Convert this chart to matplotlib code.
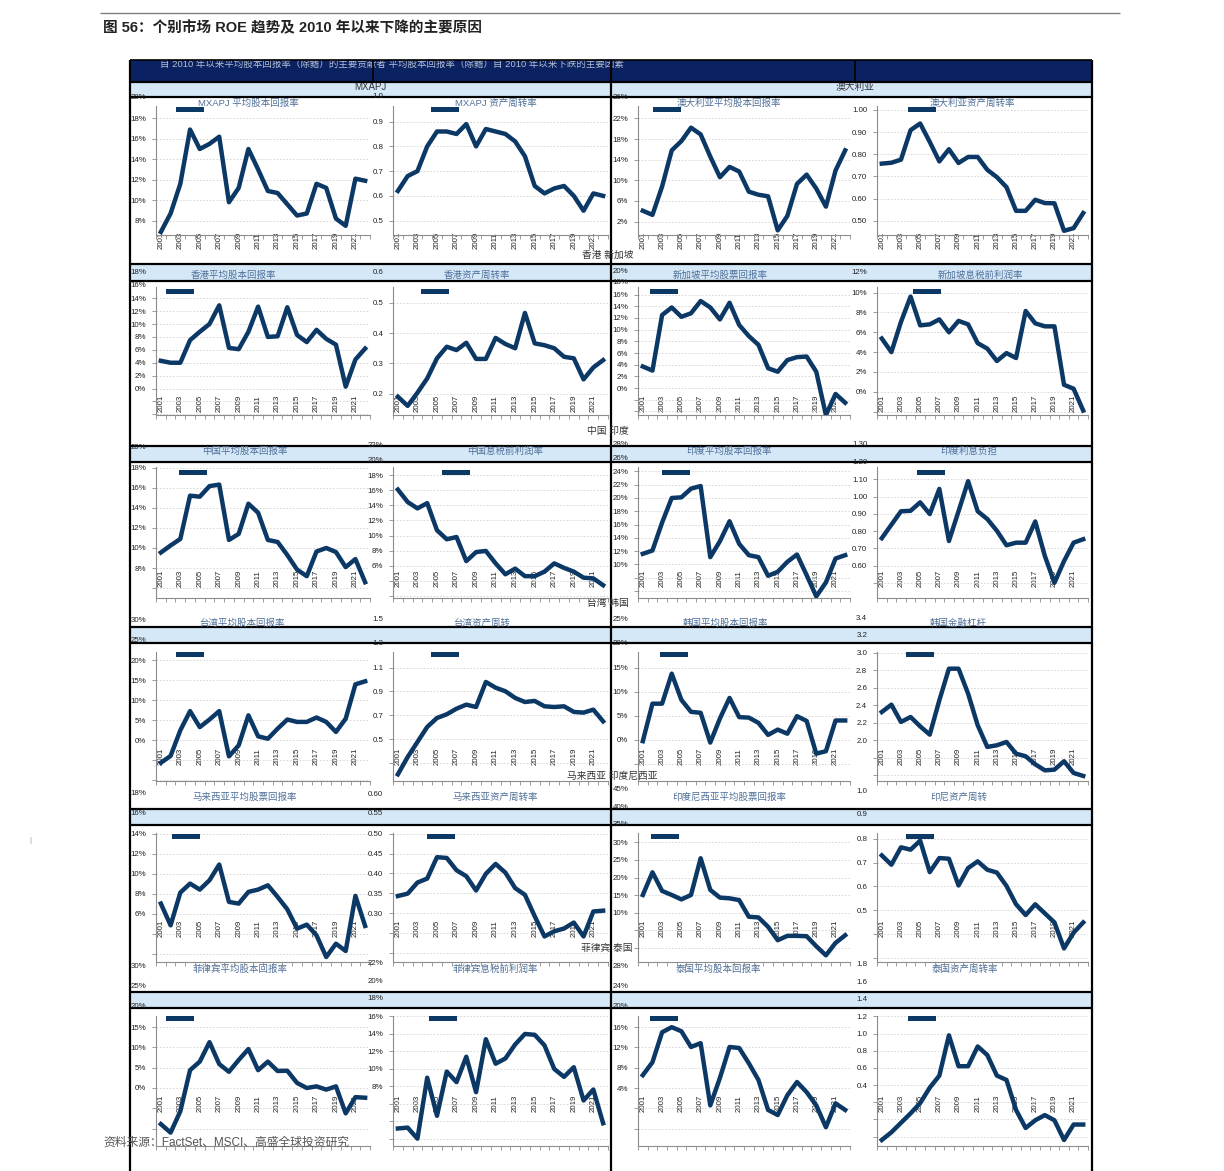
import matplotlib
matplotlib.use('Agg')
import matplotlib.pyplot as plt
import matplotlib.transforms as mtransforms
from matplotlib.lines import Line2D
from matplotlib.patches import Rectangle
import numpy as np

plt.rcParams['font.family'] = ['Liberation Sans', 'Noto Sans CJK SC', 'DejaVu Sans']

W, H = 1224, 1171
NAVY = '#0c3866'
TICK_FS = 5.7

# ---------------- data ----------------
years = list(range(2001, 2023))
year_ticks = list(range(2001, 2022, 2))

mxapj_roe = [6.9, 8.7, 11.6, 16.9, 15.0, 15.5, 16.2, 9.8, 11.2, 15.0, 13.0, 10.9, 10.7, 9.6, 8.5, 8.7, 11.6, 11.2, 8.2, 7.5, 12.1, 11.9]
mxapj_turnover = [0.62, 0.68, 0.70, 0.80, 0.86, 0.86, 0.85, 0.89, 0.80, 0.87, 0.86, 0.85, 0.82, 0.76, 0.64, 0.61, 0.63, 0.64, 0.60, 0.54, 0.61, 0.60]
aus_roe = [4.1, 3.3, 8.8, 15.8, 17.6, 20.2, 18.9, 14.6, 10.6, 12.6, 11.7, 7.8, 7.2, 6.9, 0.3, 3.1, 9.3, 11.1, 8.4, 4.9, 11.9, 15.8]
aus_turnover = [0.758, 0.762, 0.776, 0.909, 0.939, 0.856, 0.768, 0.823, 0.761, 0.788, 0.788, 0.730, 0.697, 0.652, 0.545, 0.545, 0.595, 0.580, 0.579, 0.455, 0.467, 0.535]
hk_roe = [4.3, 4.0, 4.0, 7.5, 8.8, 10.0, 12.9, 6.3, 6.1, 8.8, 12.7, 8.0, 8.1, 12.6, 8.3, 7.2, 9.1, 7.7, 6.8, 0.3, 4.5, 6.2]
hk_turnover = [0.191, 0.161, 0.204, 0.251, 0.317, 0.355, 0.344, 0.368, 0.315, 0.315, 0.384, 0.364, 0.350, 0.466, 0.366, 0.360, 0.350, 0.322, 0.317, 0.248, 0.287, 0.311]
sg_roe = [3.7, 3.0, 12.5, 13.8, 12.2, 12.8, 14.9, 13.8, 11.75, 14.6, 10.8, 8.9, 7.4, 3.4, 2.8, 4.8, 5.3, 5.4, 2.8, -4.6, -1.0, -2.5]
sg_ebit = [5.37, 4.0, 7.05, 9.6, 6.7, 6.8, 7.3, 6.0, 7.15, 6.8, 4.9, 4.35, 3.1, 3.9, 3.4, 8.15, 6.9, 6.6, 6.6, 0.7, 0.3, -1.9]
cn_roe = [9.55, 10.25, 10.9, 15.2, 15.1, 16.15, 16.3, 10.8, 11.4, 14.4, 13.5, 10.8, 10.6, 9.3, 7.85, 7.2, 9.65, 10.0, 9.6, 8.1, 8.9, 6.6]
cn_ebit = [16.1, 14.45, 13.6, 14.3, 10.7, 9.5, 9.8, 6.6, 7.8, 7.95, 6.3, 4.85, 5.6, 4.6, 4.6, 5.2, 6.3, 5.7, 5.2, 4.4, 4.3, 3.4]
in_roe = [11.6, 12.1, 16.3, 20.0, 20.1, 21.4, 21.8, 11.1, 13.5, 16.5, 13.1, 11.4, 11.1, 8.3, 8.9, 10.4, 11.5, 8.4, 5.2, 7.3, 10.9, 11.4]
in_burden = [0.759, 0.837, 0.915, 0.918, 0.967, 0.899, 1.045, 0.743, 0.915, 1.090, 0.915, 0.870, 0.802, 0.718, 0.733, 0.733, 0.856, 0.656, 0.500, 0.626, 0.733, 0.753]
tw_roe = [-5.6, -3.9, 2.5, 7.3, 3.3, 5.2, 7.3, -4.0, -1.25, 6.25, 1.0, 0.4, 2.9, 5.2, 4.6, 4.6, 5.7, 4.6, 2.1, 5.4, 14.0, 14.75]
tw_turnover = [0.206, 0.351, 0.477, 0.603, 0.678, 0.709, 0.756, 0.790, 0.770, 0.980, 0.932, 0.902, 0.846, 0.812, 0.821, 0.776, 0.770, 0.776, 0.729, 0.723, 0.748, 0.650]
kr_roe = [-0.3, 7.5, 7.5, 13.75, 8.3, 5.8, 5.6, -0.6, 4.4, 8.7, 4.7, 4.6, 3.5, 1.0, 2.1, 1.25, 4.9, 3.9, -2.9, -2.4, 4.0, 4.0]
kr_leverage = [2.324, 2.408, 2.21, 2.267, 2.16, 2.065, 2.458, 2.82, 2.82, 2.534, 2.172, 1.924, 1.943, 1.981, 1.847, 1.817, 1.725, 1.656, 1.664, 1.76, 1.626, 1.592]
my_roe = [7.0, 4.83, 8.1, 9.0, 8.4, 9.33, 10.9, 7.17, 7.0, 8.17, 8.4, 8.83, 7.67, 6.43, 4.5, 4.9, 3.83, 1.67, 3.0, 2.27, 7.77, 4.77]
my_turnover = [0.343, 0.349, 0.377, 0.387, 0.441, 0.439, 0.408, 0.393, 0.357, 0.399, 0.424, 0.402, 0.363, 0.346, 0.292, 0.241, 0.254, 0.261, 0.276, 0.241, 0.304, 0.306]
id_roe = [15.05, 21.5, 16.2, 15.05, 13.8, 15.05, 25.5, 16.5, 14.3, 14.1, 13.6, 8.86, 8.67, 6.0, 2.2, 3.43, 3.43, 3.33, 0.48, -2.1, 1.43, 3.6]
id_turnover = [0.730, 0.691, 0.764, 0.754, 0.792, 0.660, 0.719, 0.716, 0.604, 0.677, 0.705, 0.670, 0.658, 0.602, 0.525, 0.480, 0.525, 0.487, 0.449, 0.340, 0.406, 0.449]
ph_roe = [-8.9, -11.0, -5.75, 4.4, 6.5, 11.3, 5.9, 4.0, 6.9, 9.6, 4.4, 6.5, 4.2, 4.25, 1.25, 0.0, 0.4, -0.4, 0.4, -6.25, -2.25, -2.4]
ph_ebit = [3.2, 3.3, 2.04, 9.0, 4.65, 9.7, 8.5, 11.4, 7.35, 13.4, 10.6, 11.2, 12.8, 14.0, 13.9, 12.7, 10.0, 9.1, 10.2, 6.4, 7.65, 3.8]
th_roe = [6.55, 9.1, 15.0, 16.0, 15.2, 12.1, 12.85, 0.6, 6.0, 12.1, 11.9, 8.9, 5.6, -0.3, -1.3, 2.6, 5.2, 3.2, 0.6, -3.7, 1.0, -0.3]
th_turnover = [-0.24, -0.15, -0.04, 0.07, 0.19, 0.37, 0.51, 0.98, 0.62, 0.62, 0.85, 0.75, 0.51, 0.46, 0.11, -0.10, -0.01, 0.05, -0.01, -0.24, -0.06, -0.06]

titles = [
    ['MXAPJ 平均股本回报率', 'MXAPJ 资产周转率', '澳大利亚平均股本回报率', '澳大利亚资产周转率'],
    ['香港平均股本回报率', '香港资产周转率', '新加坡平均股票回报率', '新加坡息税前利润率'],
    ['中国平均股本回报率', '中国息税前利润率', '印度平均股本回报率', '印度利息负担'],
    ['台湾平均股本回报率', '台湾资产周转', '韩国平均股本回报率', '韩国金融杠杆'],
    ['马来西亚平均股票回报率', '马来西亚资产周转率', '印度尼西亚平均股票回报率', '印尼资产周转'],
    ['菲律宾平均股本回报率', '菲律宾息税前利润率', '泰国平均股本回报率', '泰国资产周转率'],
]
series = [
    [mxapj_roe, mxapj_turnover, aus_roe, aus_turnover],
    [hk_roe, hk_turnover, sg_roe, sg_ebit],
    [cn_roe, cn_ebit, in_roe, in_burden],
    [tw_roe, tw_turnover, kr_roe, kr_leverage],
    [my_roe, my_turnover, id_roe, id_turnover],
    [ph_roe, ph_ebit, th_roe, th_turnover],
]
PCT, D1, D2 = '{:.0f}%', '{:.1f}', '{:.2f}'
# (ylim, tick step, tick base, lowest label, highest label, format)
scales = [
    [((6.6, 19.2), 2, 0, 8, 20, PCT), ((0.442, 0.963), 0.1, 0, 0.5, 1.0, D1),
     ((-0.6, 24.4), 4, 2, 2, 26, PCT), ((0.436, 1.018), 0.1, 0, 0.5, 1.0, D2)],
    [((-4.1, 15.74), 2, 0, 0, 18, PCT), ((0.131, 0.551), 0.1, 0, 0.2, 0.6, D1),
     ((-4.6, 17.3), 2, 0, 0, 20, PCT), ((-2.35, 10.57), 2, 0, 0, 12, PCT)],
    [((5.03, 18.05), 2, 0, 8, 20, PCT), ((1.7, 19.1), 2, 0, 6, 22, PCT),
     ((4.96, 24.66), 2, 0, 10, 28, PCT), ((0.412, 1.172), 0.1, 0, 0.6, 1.3, D2)],
    [((-10.17, 22.08), 5, 0, 0, 30, PCT), ((0.15, 1.231), 0.2, 0.1, 0.5, 1.5, D1),
     ((-8.6, 18.26), 5, 0, 0, 25, PCT), ((1.534, 3.011), 0.2, 0, 2.0, 3.4, D1)],
    [((1.17, 14.05), 2, 0, 6, 18, PCT), ((0.1765, 0.502), 0.05, 0, 0.3, 0.6, D2),
     ((-4.0, 32.67), 5, 0, 10, 45, PCT), ((0.283, 0.824), 0.1, 0, 0.5, 1.0, D1)],
    [((-14.3, 17.75), 5, 0, 0, 30, PCT), ((1.2, 16.05), 2, 0, 8, 22, PCT),
     ((-7.4, 18.2), 4, 0, 4, 28, PCT), ((-0.31, 1.205), 0.2, 0, 0.4, 1.8, D1)],
]

# ---------------- layout (pixels) ----------------
cols = [(156, 370), (393, 608), (638, 850), (877, 1088)]
rows = [  # axes top, axes bottom, title y, legend y, year label offset above spine
    (106, 235, 103, 110, 3), (287, 415, 275, 292, 20), (467, 598, 451, 473, 28),
    (652, 781, 623, 655, 33), (833, 962, 797, 837, 42), (1016, 1146, 969, 1019, 51)]
title_x = [[248, 496, 729, 972], [233, 477, 720, 980], [245, 505, 729, 969],
           [242, 482, 725, 958], [245, 495, 729, 959], [240, 495, 718, 965]]
legend_x = [[178, 433, 655, 910], [168, 423, 652, 915], [181, 444, 664, 919],
            [178, 433, 662, 908], [174, 429, 653, 908], [168, 431, 652, 910]]
bands = [(82, 97), (264, 281), (446, 462), (627, 643), (809, 825), (992, 1008)]
group_labels = [('香港 新加坡', 608, 255), ('中国 印度', 608, 431), ('台湾 韩国', 608, 603),
                ('马来西亚 印度尼西亚', 612, 776), ('菲律宾 泰国', 607, 948)]

fig = plt.figure(figsize=(W / 100, H / 100), dpi=100)

# background frame: header, light-blue bands, black rules
bg = fig.add_axes([0, 0, 1, 1], zorder=-5)
bg.set_xlim(0, W)
bg.set_ylim(H, 0)
bg.axis('off')
bg.hlines(13, 100, 1120, colors='#808080', lw=1.0)
bg.add_patch(Rectangle((130, 60), 962, 22, facecolor='#0b2262', edgecolor='none', zorder=1))
for top, bot in bands:
    bg.add_patch(Rectangle((130, top), 962, bot - top, facecolor='#d5e8f8', edgecolor='none', zorder=1))
    bg.hlines([top, bot], 130, 1092, colors='black', lw=1.6, zorder=4)
bg.hlines(60, 130, 1092, colors='black', lw=1.2, zorder=4)
bg.vlines([130, 611, 1092], 60, H, colors='black', lw=1.6, zorder=4)
bg.vlines([373, 855], 60, 82, colors='black', lw=1.2, zorder=4)
bg.text(160, 64, '自 2010 年以来平均股本回报率（除鳍）的主要贡献者 平均股本回报率（除鳍）自 2010 年以来下跌的主要因素',
        fontsize=6.8, color='#b4bdd2', ha='left', va='center', zorder=2)
bg.text(370, 87, 'MXAPJ', fontsize=7, color='#333333', ha='center', va='center', zorder=2)
bg.text(855, 87, '澳大利亚', fontsize=7, color='#333333', ha='center', va='center', zorder=2)
for txt, x, y in group_labels:
    bg.text(x, y, txt, fontsize=7, color='#333333', ha='center', va='center', zorder=5)

for r, (top, bot, ty, ly, yoff) in enumerate(rows):
    for c, (x0, x1) in enumerate(cols):
        vals = series[r][c]
        (ylo, yhi), step, base, lab_lo, lab_hi, fmt = scales[r][c]
        ax = fig.add_axes([x0 / W, 1 - bot / H, (x1 - x0) / W, (bot - top) / H], zorder=1)
        ax.set_facecolor('none')
        ax.plot(years, vals, color=NAVY, lw=3.2, zorder=3)
        ax.set_xlim(2000.5, 2022.5)
        ax.set_ylim(ylo, yhi)

        kmin = int(np.ceil((ylo - base) / step - 1e-9))
        kmax = int(np.floor((yhi - base) / step + 1e-9))
        ticks = [round(base + k * step, 4) for k in range(kmin, kmax + 1)]
        ax.set_yticks(ticks)
        ax.set_yticklabels([fmt.format(t) if t >= lab_lo - 1e-9 else '' for t in ticks])
        # labels of the value axis that run past the plot top
        trans = mtransforms.offset_copy(ax.get_yaxis_transform(), fig=fig, x=-7, y=0, units='points')
        k = kmax + 1
        while base + k * step <= lab_hi + 1e-9:
            v = round(base + k * step, 4)
            ax.text(0, v, fmt.format(v), transform=trans, ha='right', va='center',
                    fontsize=TICK_FS, color='#222222', clip_on=False)
            k += 1

        ax.set_xticks(year_ticks)
        ax.set_xticklabels([str(y) for y in year_ticks], rotation=90, va='top', fontsize=TICK_FS, color='#222222')
        ax.set_xticks(np.arange(2000.5, 2023, 1), minor=True)
        ax.tick_params(axis='x', which='major', length=0, pad=-yoff * 0.72)
        ax.tick_params(axis='x', which='minor', length=3, color='#8c8c8c', width=0.6)
        ax.tick_params(axis='y', length=3, color='#8c8c8c', width=0.6, pad=4, labelsize=TICK_FS, labelcolor='#222222')
        ax.grid(axis='y', color='#d2d2d2', ls=(0, (2, 2)), lw=0.6)
        ax.set_axisbelow(True)
        for s in ('top', 'right'):
            ax.spines[s].set_visible(False)
        for s in ('left', 'bottom'):
            ax.spines[s].set_color('#8c8c8c')
            ax.spines[s].set_linewidth(0.8)

        ax.legend([Line2D([], [], color=NAVY, lw=3.6)], [''], loc='center left',
                  bbox_to_anchor=(legend_x[r][c] / W, 1 - ly / H), bbox_transform=fig.transFigure,
                  frameon=False, handlelength=3.0, borderpad=0, borderaxespad=0,
                  handletextpad=0, fontsize=5.5)
        bg.text(title_x[r][c], ty, titles[r][c], fontsize=6.8, color='#4f6f98',
                ha='center', va='center', zorder=5)

fig.text(103 / W, 1 - 28 / H, '图 56：个别市场 ROE 趋势及 2010 年以来下降的主要原因',
         fontsize=10.5, fontweight='bold', color='#222222', ha='left', va='center')
fig.text(103 / W, 1 - 1143 / H, '资料来源：FactSet、MSCI、高盛全球投资研究',
         fontsize=8.5, color='#555555', ha='left', va='center', zorder=10)
fig.text(30 / W, 1 - 840 / H, '|', fontsize=6, color='#999999', ha='center', va='center')

fig.savefig('out.png', dpi=100)
